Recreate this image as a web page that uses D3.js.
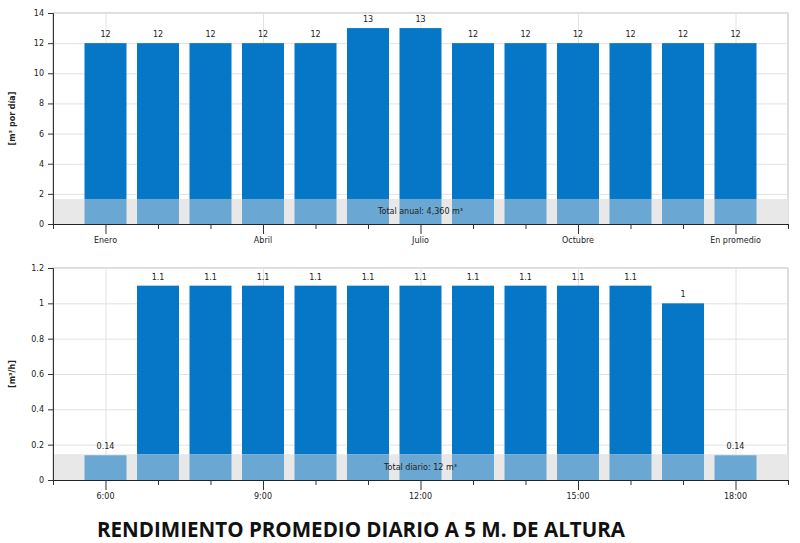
<!DOCTYPE html>
<html>
<head>
<meta charset="utf-8">
<script src="https://cdn.jsdelivr.net/npm/d3@7"></script>
<style>
  body { margin: 0; background: #fff; }
  text { font-family: "DejaVu Sans", Verdana, sans-serif; fill: #222; }
</style>
</head>
<body>
<div id="chart"></div>
<script>
// monthly output, last bar is the yearly average
let months = ["Enero", "Febrero", "Marzo", "Abril", "Mayo", "Junio", "Julio",
    "Agosto", "Septiembre", "Octubre", "Noviembre", "Diciembre", "En promedio"];
let monthValues = [12, 12, 12, 12, 12, 13, 13, 12, 12, 12, 12, 12, 12];
let monthLabels = ["Enero", "Abril", "Julio", "Octubre", "En promedio"];
let monthTicks = [0, 2, 4, 6, 8, 10, 12, 14];
let monthBand = 1.66;

// hourly output for an average day
let hours = ["6:00", "7:00", "8:00", "9:00", "10:00", "11:00", "12:00",
    "13:00", "14:00", "15:00", "16:00", "17:00", "18:00"];
let hourValues = [0.14, 1.1, 1.1, 1.1, 1.1, 1.1, 1.1, 1.1, 1.1, 1.1, 1.1, 1, 0.14];
let hourLabels = ["6:00", "9:00", "12:00", "15:00", "18:00"];
let hourTicks = [0, 0.2, 0.4, 0.6, 0.8, 1, 1.2];
let hourBand = 0.146;

let width = 800;
let height = 543;
let dark = "#0677c6";
let light = "#6aa8d3";

let svg = d3.select("#chart")
    .append("svg")
    .attr("width", width)
    .attr("height", height);

function panel(cats, values, shown, ticks, band, top, bottom, yLabel, note) {
    let x = d3.scaleLinear()
        .domain([-1, cats.length])
        .range([53, 788]);
    let y = d3.scaleLinear()
        .domain([0, d3.max(ticks)])
        .range([bottom, top]);
    let step = x(1) - x(0);
    let bw = step * 0.8;

    let g = svg.append("g");

    // frame
    g.append("rect")
        .attr("x", x.range()[0])
        .attr("y", top)
        .attr("width", x.range()[1] - x.range()[0])
        .attr("height", bottom - top)
        .attr("fill", "none")
        .attr("stroke", "#bbb");

    // horizontal grid
    g.selectAll(".hgrid")
        .data(ticks.slice(1))
        .enter().append("line")
        .attr("x1", x.range()[0])
        .attr("x2", x.range()[1])
        .attr("y1", d => y(d) + 0.5)
        .attr("y2", d => y(d) + 0.5)
        .attr("stroke", "#e2e2e2");

    // vertical grid on labelled categories
    g.selectAll(".vgrid")
        .data(shown)
        .enter().append("line")
        .attr("x1", d => x(cats.indexOf(d)) + 0.5)
        .attr("x2", d => x(cats.indexOf(d)) + 0.5)
        .attr("y1", top)
        .attr("y2", bottom)
        .attr("stroke", "#e2e2e2");

    // grey band
    g.append("rect")
        .attr("x", x.range()[0] + 1)
        .attr("y", y(band))
        .attr("width", x.range()[1] - x.range()[0] - 1)
        .attr("height", bottom - y(band))
        .attr("fill", "#e8e8e8");

    let bars = g.selectAll(".bar")
        .data(values)
        .enter().append("g");

    bars.append("rect")
        .attr("x", (d, i) => x(i) - bw / 2)
        .attr("y", d => y(d))
        .attr("width", bw)
        .attr("height", d => Math.max(0, y(band) - y(d)))
        .attr("fill", dark);

    bars.append("rect")
        .attr("x", (d, i) => x(i) - bw / 2)
        .attr("y", d => y(Math.min(d, band)))
        .attr("width", bw)
        .attr("height", d => bottom - y(Math.min(d, band)))
        .attr("fill", light);

    bars.append("text")
        .attr("x", (d, i) => x(i))
        .attr("y", d => y(d) - 6)
        .attr("text-anchor", "middle")
        .style("font-size", "8px")
        .text(d => d);

    g.append("text")
        .attr("x", (x.range()[0] + x.range()[1]) / 2)
        .attr("y", bottom - 10)
        .attr("text-anchor", "middle")
        .style("font-size", "8px")
        .text(note);

    // y axis
    let yAxis = d3.axisLeft(y)
        .tickValues(ticks)
        .tickSize(5)
        .tickPadding(4)
        .tickFormat(d => d);
    let ya = g.append("g")
        .attr("transform", "translate(" + x.range()[0] + ",0)")
        .call(yAxis);
    ya.select(".domain").attr("stroke", "#333");
    ya.selectAll("line").attr("stroke", "#333");
    ya.selectAll("text").style("font-size", "8px").attr("fill", "#222");

    // x axis: minor ticks on every slot, long ticks and labels on a few
    let idx = d3.range(-1, cats.length + 1);
    let xa = g.append("g")
        .attr("transform", "translate(0," + bottom + ")");
    xa.append("line")
        .attr("x1", x.range()[0])
        .attr("x2", x.range()[1])
        .attr("y1", 0.5)
        .attr("y2", 0.5)
        .attr("stroke", "#222");
    xa.selectAll(".tick")
        .data(idx)
        .enter().append("line")
        .attr("x1", d => x(d) + 0.5)
        .attr("x2", d => x(d) + 0.5)
        .attr("y1", 0)
        .attr("y2", d => shown.includes(cats[d]) ? 10 : 5)
        .attr("stroke", "#333");
    xa.selectAll(".lbl")
        .data(shown)
        .enter().append("text")
        .attr("x", d => x(cats.indexOf(d)))
        .attr("y", 19)
        .attr("text-anchor", "middle")
        .style("font-size", "8px")
        .text(d => d);

    g.append("text")
        .attr("transform", "translate(15," + ((top + bottom) / 2) + ") rotate(-90)")
        .attr("text-anchor", "middle")
        .style("font-size", "8px")
        .style("font-weight", "bold")
        .text(yLabel);
}

panel(months, monthValues, monthLabels, monthTicks, monthBand, 13, 224,
    "[m³ por día]", "Total anual: 4,360 m³");
panel(hours, hourValues, hourLabels, hourTicks, hourBand, 268, 480,
    "[m³/h]", "Total diario: 12 m³");

svg.append("text")
    .attr("x", 97)
    .attr("y", 537)
    .attr("textLength", 528)
    .attr("lengthAdjust", "spacingAndGlyphs")
    .style("font-family", "'Open Sans', Lato, sans-serif")
    .style("font-size", "22px")
    .style("font-weight", "bold")
    .style("fill", "#111")
    .text("RENDIMIENTO PROMEDIO DIARIO A 5 M. DE ALTURA");
</script>
</body>
</html>
